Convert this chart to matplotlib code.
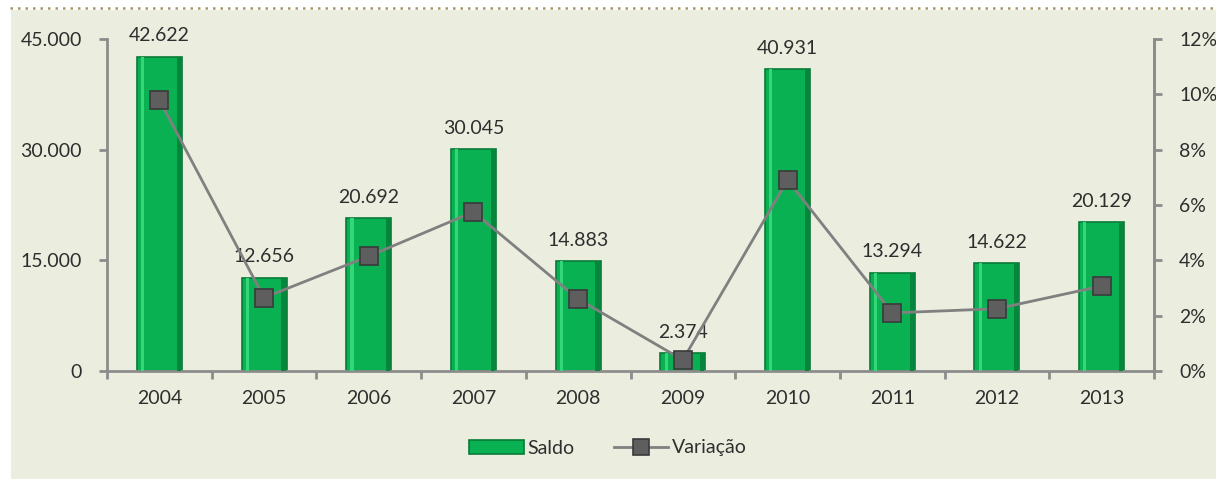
import matplotlib
matplotlib.use("Agg")
import matplotlib.pyplot as plt
from matplotlib.lines import Line2D
from matplotlib.patches import Rectangle
import numpy as np

years = ["2004", "2005", "2006", "2007", "2008", "2009", "2010", "2011", "2012", "2013"]
saldo = [42622, 12656, 20692, 30045, 14883, 2374, 40931, 13294, 14622, 20129]
saldo_labels = ["42.622", "12.656", "20.692", "30.045", "14.883", "2.374", "40.931", "13.294", "14.622", "20.129"]
variacao = [9.8, 2.65, 4.15, 5.75, 2.6, 0.4, 6.9, 2.1, 2.25, 3.07]

left_ticks = [0, 15000, 30000, 45000]
left_labels = ["0", "15.000", "30.000", "45.000"]
right_ticks = [0, 2, 4, 6, 8, 10, 12]
right_labels = ["0%", "2%", "4%", "6%", "8%", "10%", "12%"]

BG = "#EBEEDF"
GREEN = "#0AB152"
AXIS = "#8C8C8C"
TXT = "#2E2E2E"
FS = 14

plt.rcParams["font.family"] = ["Lato", "DejaVu Sans"]

fig = plt.figure(figsize=(12.16, 4.79), dpi=100, facecolor="white")
fig.patches.append(Rectangle((11 / 1216, 0), 1, 1 - 10 / 479, transform=fig.transFigure,
                             facecolor=BG, edgecolor="none", zorder=-10))
fig.add_artist(Line2D([10 / 1216, 1], [1 - 8 / 479] * 2, transform=fig.transFigure,
                      color="#A8986A", linestyle=(0, (1, 2)), linewidth=1.8))

ax = fig.add_axes([107 / 1216, 1 - 371 / 479, (1154 - 107) / 1216, (371 - 39) / 479])
ax.set_facecolor("none")
x = np.arange(len(years))

# bars with a simple bevel look
ax.bar(x, saldo, width=0.43, color=GREEN, edgecolor="#077A38", linewidth=1.2, zorder=2)
ax.bar(x - 0.16, saldo, width=0.03, color="#33D77A", linewidth=0, zorder=3)
ax.bar(x + 0.185, saldo, width=0.04, color="#06853C", linewidth=0, zorder=3)

for xi, v, lab in zip(x, saldo, saldo_labels):
    ax.annotate(lab, (xi, v), xytext=(0, 9), textcoords="offset points",
                ha="center", va="bottom", fontsize=FS, color=TXT, zorder=6)

ax.set_xlim(-0.5, len(years) - 0.5)
ax.set_ylim(0, 45000)
ax.set_yticks(left_ticks)
ax.set_yticklabels(left_labels)
ax.set_xticks(x)
ax.set_xticklabels(years)
ax.set_xticks(np.arange(-0.5, len(years)), minor=True)
ax.tick_params(axis="x", which="major", length=0, pad=14, labelsize=FS, labelcolor=TXT)
ax.tick_params(axis="x", which="minor", length=6, width=2, color=AXIS, direction="out")
ax.tick_params(axis="y", length=6, width=2, color=AXIS, labelsize=FS, labelcolor=TXT, pad=12)

ax.spines["top"].set_visible(False)
for side in ["left", "right", "bottom"]:
    ax.spines[side].set_color(AXIS)
    ax.spines[side].set_linewidth(2)

ax2 = ax.twinx()
ax2.set_ylim(0, 12)
ax2.set_yticks(right_ticks)
ax2.set_yticklabels(right_labels)
ax2.tick_params(axis="y", length=6, width=2, color=AXIS, labelsize=FS, labelcolor=TXT, pad=12)
for side in ["top", "left", "bottom"]:
    ax2.spines[side].set_visible(False)
ax2.spines["right"].set_color(AXIS)
ax2.spines["right"].set_linewidth(2)
ax2.plot(x, variacao, color="#808080", linewidth=2, marker="s", markersize=13,
         markerfacecolor="#5E5E5E", markeredgecolor="#3A3A3A", markeredgewidth=1.2, zorder=5)

handles = [
    Rectangle((0, 0), 1, 1, facecolor=GREEN, edgecolor="#077A38", linewidth=1.2),
    Line2D([], [], color="#808080", linewidth=2, marker="s", markersize=12,
           markerfacecolor="#5E5E5E", markeredgecolor="#3A3A3A", markeredgewidth=1.2),
]
fig.legend(handles, ["Saldo", "Variação"], loc="center", bbox_to_anchor=(0.5, 1 - 448 / 479),
           ncol=2, frameon=False, fontsize=FS, handlelength=2.8, handletextpad=0.2,
           columnspacing=2.0, labelcolor=TXT)

fig.savefig("out.png", dpi=100, facecolor=fig.get_facecolor())
